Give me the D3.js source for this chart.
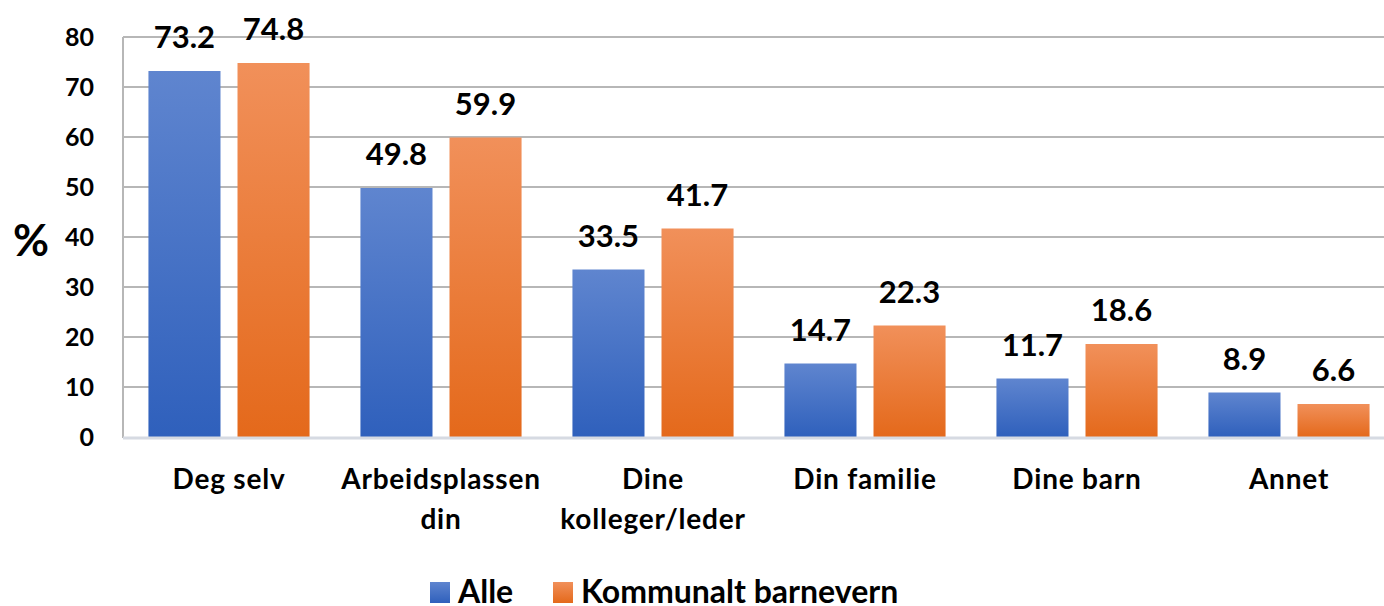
<!DOCTYPE html>
<html><head><meta charset="utf-8">
<script src="https://cdn.jsdelivr.net/npm/d3@7"></script>
<style>body{margin:0;background:#fff;} svg{display:block;font-family:Lato,"Open Sans",sans-serif;font-weight:700;}</style>
</head><body><svg id="c" width="1384" height="606"></svg>
<script>
const categories = [["Deg selv"],["Arbeidsplassen","din"],["Dine","kolleger/leder"],["Din familie"],["Dine barn"],["Annet"]];
const seriesNames = ["Alle","Kommunalt barnevern"];
const alle = [73.2,49.8,33.5,14.7,11.7,8.9];
const kommunalt = [74.8,59.9,41.7,22.3,18.6,6.6];
const yTicks = [0,10,20,30,40,50,60,70,80];

(function(){
const svg = d3.select("#c");
const W=1384,H=606;
const pL=123, pR=1395, pT=37, pB=437;
const catKeys = categories.map(c=>c.join(" "));
const y = d3.scaleLinear().domain([0,80]).range([pB,pT]);
const x0 = d3.scaleBand().domain(catKeys).range([pL,pR]).paddingInner(0.24).paddingOuter(0.12);
const x1 = d3.scaleBand().domain(seriesNames).range([0,x0.bandwidth()]).paddingInner(0.191);

const defs = svg.append("defs");
const grads = [["gBlue","#5f85cf","#2f60bc"],["gOrange","#f1905a","#e4691b"]];
grads.forEach(([id,a,b])=>{
  const g=defs.append("linearGradient").attr("id",id).attr("x1",0).attr("y1",0).attr("x2",0).attr("y2",1);
  g.append("stop").attr("offset","0%").attr("stop-color",a);
  g.append("stop").attr("offset","100%").attr("stop-color",b);
});
const fills = {"Alle":"url(#gBlue)","Kommunalt barnevern":"url(#gOrange)"};

const grid = svg.append("g");
yTicks.filter(t=>t>0).forEach(t=>{
  grid.append("line").attr("x1",pL).attr("x2",W).attr("y1",y(t)).attr("y2",y(t))
    .attr("stroke","#b7b7b7").attr("stroke-width",2);
});
grid.append("line").attr("x1",pL).attr("x2",pL).attr("y1",pT).attr("y2",pB+1)
  .attr("stroke","#b7b7b7").attr("stroke-width",2);

const yAxis = d3.axisLeft(y).tickValues(yTicks).tickSize(0).tickPadding(29).tickFormat(d3.format("d"));
const ya = svg.append("g").attr("transform",`translate(${pL},0)`).call(yAxis);
ya.select(".domain").remove();
ya.selectAll("text").attr("font-size",25).attr("font-family","Lato").attr("font-weight",700).attr("fill","#000");

const data = catKeys.map((k,i)=>({k, vals:[{s:"Alle",v:alle[i]},{s:"Kommunalt barnevern",v:kommunalt[i]}]}));
const grp = svg.append("g").selectAll("g").data(data).join("g").attr("transform",d=>`translate(${x0(d.k)},0)`);
grp.selectAll("rect").data(d=>d.vals).join("rect")
  .attr("x",d=>x1(d.s)).attr("width",x1.bandwidth())
  .attr("y",d=>y(d.v)).attr("height",d=>y(0)-y(d.v))
  .attr("fill",d=>fills[d.s]);
svg.append("line").attr("x1",pL).attr("x2",W).attr("y1",pB+1).attr("y2",pB+1)
  .attr("stroke","#d6dae2").attr("stroke-width",3);

grp.selectAll("text").data(d=>d.vals).join("text")
  .attr("x",d=>x1(d.s)+x1.bandwidth()/2).attr("y",d=>y(d.v)-23)
  .attr("text-anchor","middle").attr("font-size",31).attr("fill","#000")
  .text(d=>d.v.toFixed(1));

const cl = svg.append("g");
categories.forEach((lines,i)=>{
  const cx = x0(catKeys[i])+x0.bandwidth()/2;
  const t = cl.append("text").attr("x",cx).attr("y",489).attr("text-anchor","middle")
    .attr("font-size",28).attr("letter-spacing",0.8).attr("fill","#000");
  lines.forEach((ln,j)=>t.append("tspan").attr("x",cx).attr("y",489+j*40).text(ln));
});

svg.append("text").attr("x",31).attr("y",256).attr("text-anchor","middle").attr("font-size",44).attr("fill","#000").text("%");

const legX=[430,553];
seriesNames.forEach((s,i)=>{
  svg.append("rect").attr("x",legX[i]).attr("y",582).attr("width",20).attr("height",21).attr("fill",fills[s]);
  svg.append("text").attr("x",legX[i]+28).attr("y",603).attr("font-size",32).attr("fill","#000").text(s);
});
})();
</script></body></html>
